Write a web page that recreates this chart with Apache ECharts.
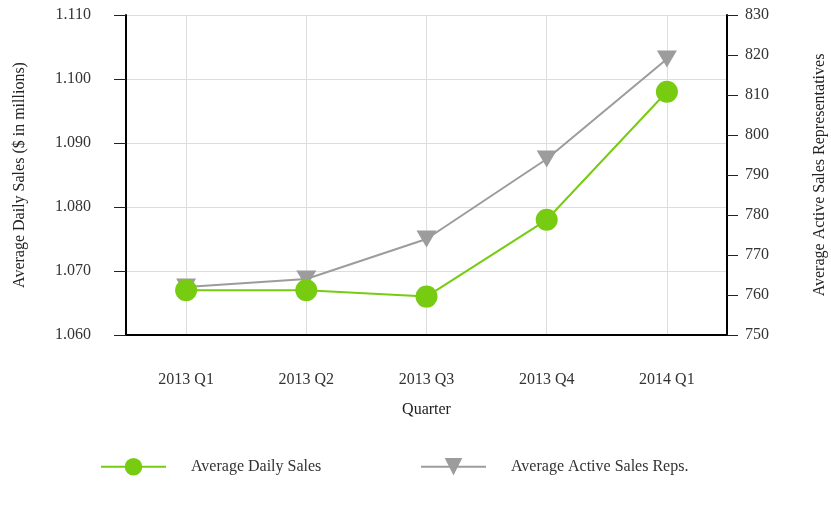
<!DOCTYPE html>
<html>
  <head>
    <meta charset="utf-8">
    <title></title>
    <style media="screen">
    html, body {margin:0; padding:0; background:#fff;}
    .box {width:831px; height:510px;}
    </style>
    <script src="https://cdn.jsdelivr.net/npm/echarts@6/dist/echarts.min.js" charset="utf-8"></script>
    <script>
    const quarters=['2013 Q1', '2013 Q2', '2013 Q3', '2013 Q4', '2014 Q1'];
    const dailySales=[1.067, 1.067, 1.066, 1.078, 1.098];
    const activeReps=[762, 764, 774, 794, 819];

    window.onload=function (){
      let font='Liberation Serif';
      let chart=echarts.init(document.querySelector('.box'));

      let legendText={fontFamily: font, fontSize: 16, color: '#333', padding: [0, 0, 0, 20]};

      let option={
        textStyle: {fontFamily: font},
        grid: {left: 126, right: 104, top: 15, bottom: 175, containLabel: false, outerBoundsMode: 'none'},
        legend: [
          {left: 100, top: 458, padding: 0, itemWidth: 65, itemHeight: 22,
            data: ['Average Daily Sales'], textStyle: legendText},
          {left: 420, top: 458, padding: 0, itemWidth: 65, itemHeight: 22,
            data: ['Average Active Sales Reps.'], textStyle: legendText}
        ],
        xAxis: {
          type: 'category',
          data: quarters,
          boundaryGap: true,
          name: 'Quarter',
          nameLocation: 'middle',
          nameGap: 67,
          nameTextStyle: {fontFamily: font, fontSize: 16, color: '#222'},
          axisLine: {lineStyle: {color: '#000', width: 2}},
          axisTick: {alignWithLabel: true, length: 11, lineStyle: {color: '#222'}},
          axisLabel: {margin: 37, fontFamily: font, fontSize: 16, color: '#333'},
          splitLine: {show: true, alignWithLabel: true, lineStyle: {color: '#ddd'}}
        },
        yAxis: [
          {
            type: 'value',
            min: 1.06,
            max: 1.11,
            interval: 0.01,
            name: 'Average Daily Sales ($ in millions)',
            nameLocation: 'middle',
            nameGap: 98,
            nameTextStyle: {fontFamily: font, fontSize: 16, color: '#222'},
            axisLine: {show: true, lineStyle: {color: '#000', width: 2}},
            axisTick: {show: true, length: 12, lineStyle: {color: '#222'}},
            axisLabel: {margin: 35, fontFamily: font, fontSize: 16, color: '#333',
              formatter: v=>v.toFixed(3)},
            splitLine: {show: true, lineStyle: {color: '#ddd'}}
          },
          {
            type: 'value',
            min: 750,
            max: 830,
            interval: 10,
            name: 'Average Active Sales Representatives',
            nameLocation: 'middle',
            nameGap: 85,
            nameRotate: 90,
            nameTextStyle: {fontFamily: font, fontSize: 16, color: '#222'},
            axisLine: {show: true, lineStyle: {color: '#000', width: 2}},
            axisTick: {show: true, length: 11, lineStyle: {color: '#222'}},
            axisLabel: {margin: 18, fontFamily: font, fontSize: 16, color: '#333'},
            splitLine: {show: false}
          }
        ],
        series: [
          {
            name: 'Average Active Sales Reps.',
            type: 'line',
            yAxisIndex: 1,
            data: activeReps,
            symbol: 'triangle',
            symbolRotate: 180,
            symbolSize: [20, 17],
            itemStyle: {color: '#9c9c9c'},
            lineStyle: {color: '#9c9c9c', width: 2},
            z: 2
          },
          {
            name: 'Average Daily Sales',
            type: 'line',
            yAxisIndex: 0,
            data: dailySales,
            symbol: 'circle',
            symbolSize: 22,
            itemStyle: {color: '#77cc11'},
            lineStyle: {color: '#77cc11', width: 2},
            z: 3
          }
        ]
      };

      chart.setOption(option);
    };
    </script>
  </head>
  <body>
    <div class="box"></div>
  </body>
</html>
